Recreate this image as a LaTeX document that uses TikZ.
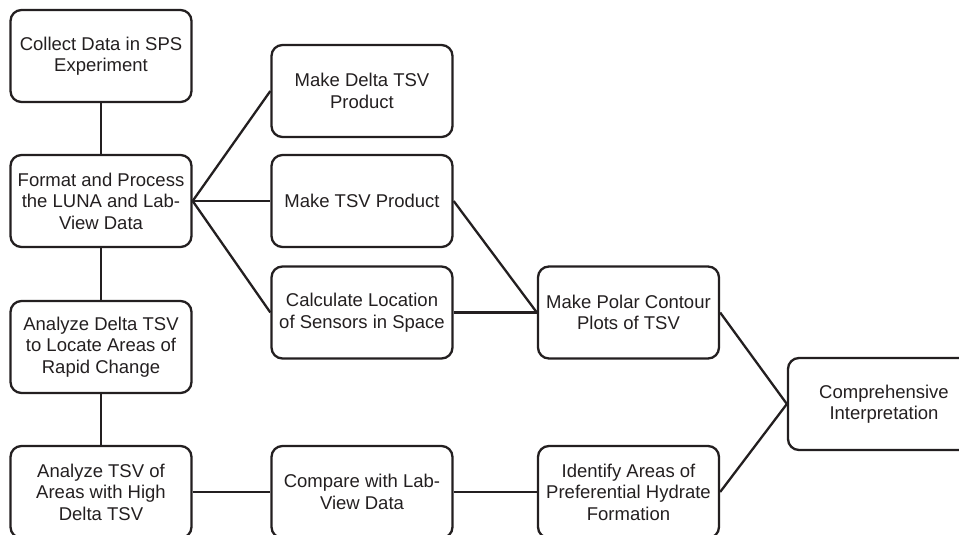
\documentclass[tikz,border=0pt]{standalone}
\usepackage{fontspec}
\setmainfont{Liberation Sans}
\definecolor{ink}{HTML}{231F20}
\begin{document}
\begin{tikzpicture}[x=1bp,y=-1bp,
  box/.style={draw=ink, line width=2.3bp, rounded corners=11bp, rectangle,
    minimum width=181bp, minimum height=92bp, align=center, inner sep=2bp,
    text=ink, font=\fontsize{18.5bp}{21.5bp}\selectfont},
  link/.style={draw=ink, line width=2.3bp}]
\useasboundingbox (0,0) rectangle (959,535);
\clip (0,0) rectangle (959,535);
\node[box] (A) at (101,56) {Collect Data in SPS\\Experiment};
\node[box] (B) at (101,201) {Format and Process\\the LUNA and Lab-\\View Data};
\node[box] (C) at (101,347) {Analyze Delta TSV\\to Locate Areas of\\Rapid Change};
\node[box] (D) at (101,492) {Analyze TSV of\\Areas with High\\Delta TSV};
\node[box] (E) at (362,91) {Make Delta TSV\\Product};
\node[box] (F) at (362,201) {Make TSV Product};
\node[box] (G) at (362,312.5) {Calculate Location\\of Sensors in Space};
\node[box] (H) at (362,492) {Compare with Lab-\\View Data};
\node[box] (I) at (628.5,312.5) {Make Polar Contour\\Plots of TSV};
\node[box] (J) at (628.5,492) {Identify Areas of\\Preferential Hydrate\\Formation};
\node[box, minimum width=192bp] (K) at (884,404) {Comprehensive\\Interpretation};
\draw[link] (A) -- (B);
\draw[link] (B) -- (C);
\draw[link] (C) -- (D);
\draw[link] (B.east) -- (E.west);
\draw[link] (B.east) -- (F.west);
\draw[link] (B.east) -- (G.west);
\draw[link] (D.east) -- (H.west);
\draw[link] (H.east) -- (J.west);
\draw[link] (F.east) -- (I.west);
\draw[link] (G.east) -- (I.west);
\draw[link] (I.east) -- (K.west);
\draw[link] (J.east) -- (K.west);
\end{tikzpicture}
\end{document}
